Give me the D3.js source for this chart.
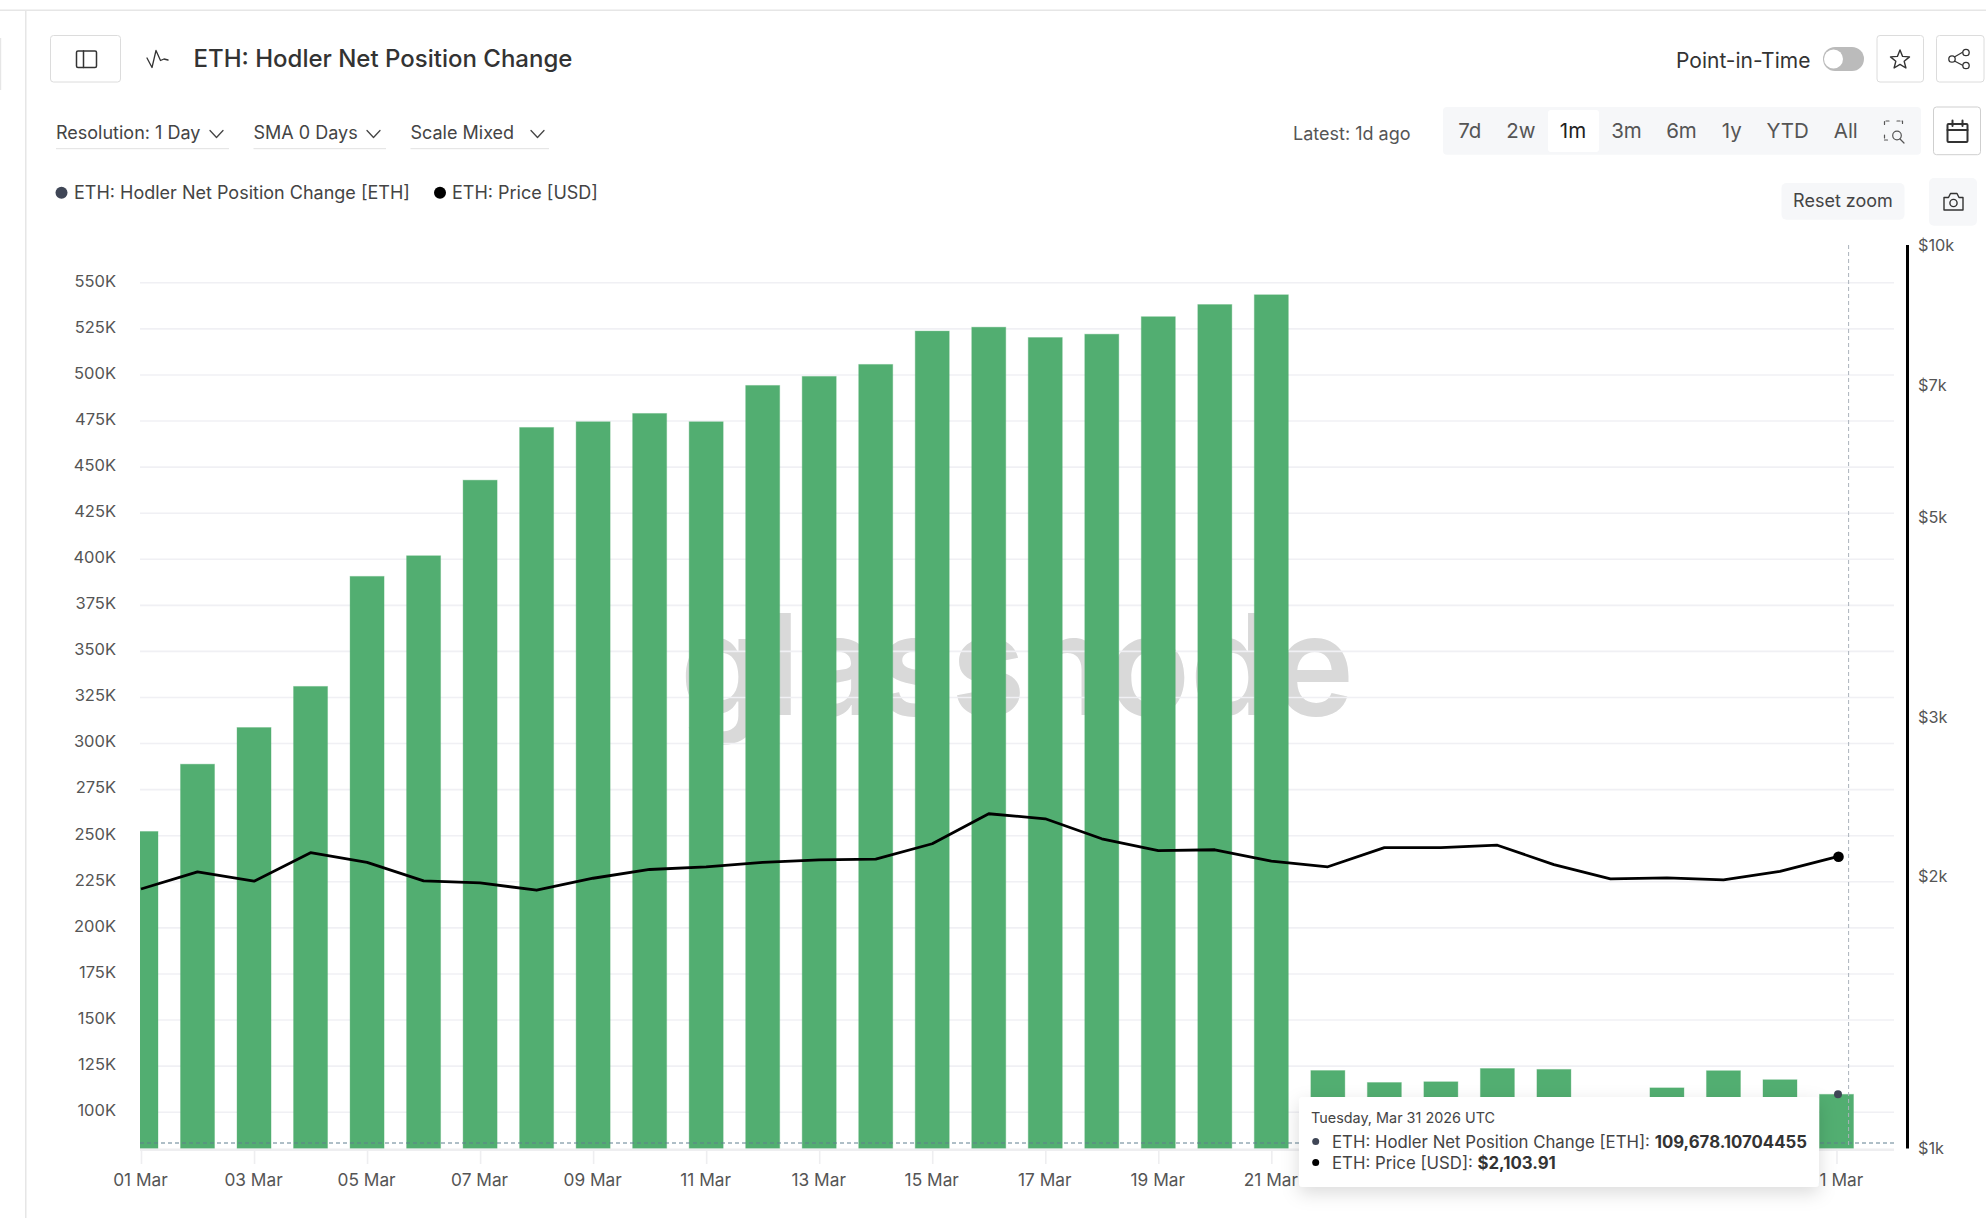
<!DOCTYPE html>
<html>
<head>
<meta charset="utf-8">
<script src="https://cdn.jsdelivr.net/npm/d3@7"></script>
<style>
html,body{margin:0;padding:0;background:#fff;overflow:hidden}
svg{display:block;font-family:Inter,"Noto Sans",sans-serif}
.axis path{display:none}
</style>
</head>
<body>
<svg id="c" width="1986" height="1218"></svg>
<script>
const days = ["2026-03-01","2026-03-02","2026-03-03","2026-03-04","2026-03-05","2026-03-06","2026-03-07","2026-03-08","2026-03-09","2026-03-10","2026-03-11","2026-03-12","2026-03-13","2026-03-14","2026-03-15","2026-03-16","2026-03-17","2026-03-18","2026-03-19","2026-03-20","2026-03-21","2026-03-22","2026-03-23","2026-03-24","2026-03-25","2026-03-26","2026-03-27","2026-03-28","2026-03-29","2026-03-30","2026-03-31"];
const netPosition = [252300,288800,308700,331000,390700,401900,442900,471500,474600,479100,474600,494300,499200,505700,523800,525900,520300,522100,531600,538200,543500,122600,116100,116500,123700,123200,105000,113200,122500,117600,109678.10704455];
const price = [1938,2025,1977,2126,2074,1979,1969,1932,1992,2037,2051,2074,2088,2091,2175,2348,2318,2203,2137,2142,2081,2051,2154,2154,2167,2062,1989,1994,1984,2027,2103.91];
const leftTicks = [100000,125000,150000,175000,200000,225000,250000,275000,300000,325000,350000,375000,400000,425000,450000,475000,500000,525000,550000];
const rightTicks = [1000,2000,3000,5000,7000,10000];
const xTickDays = ["2026-03-01","2026-03-03","2026-03-05","2026-03-07","2026-03-09","2026-03-11","2026-03-13","2026-03-15","2026-03-17","2026-03-19","2026-03-21","2026-03-23","2026-03-25","2026-03-27","2026-03-29","2026-03-31"];
const ranges = ["7d","2w","1m","3m","6m","1y","YTD","All"];

const GREEN="#52ae71", GRID="#f0f0f4", TXT="#555";
const svg=d3.select("#c");
const parse=d3.utcParse("%Y-%m-%d");
const x=d3.scaleUtc().domain([parse(days[0]),parse(days[30])]).range([141,1836.5]);
const yL=d3.scaleLinear().domain([80300,550000]).range([1148.5,282.8]);
const yR=d3.scaleLog().domain([1000,10000]).range([1148.5,245.5]);
const barW=34;

function rect(x0,y0,x1,y1,o={}){return svg.append("rect").attr("x",x0).attr("y",y0).attr("width",x1-x0).attr("height",y1-y0)
 .attr("rx",o.r||0).attr("fill",o.fill||"none").attr("stroke",o.stroke||"none").attr("stroke-width",o.sw||1);}
function text(s,x0,y0,o={}){return svg.append("text").text(s).attr("x",x0).attr("y",y0).attr("dominant-baseline","central")
 .attr("font-size",o.size||16).attr("font-weight",o.w||400).attr("fill",o.fill||TXT).attr("text-anchor",o.a||"start");}
function pathS(d,o={}){return svg.append("path").attr("d",d).attr("fill",o.fill||"none").attr("stroke",o.stroke||"#333").attr("stroke-width",o.sw||1.5).attr("stroke-linecap","round").attr("stroke-linejoin","round").attr("stroke-dasharray",o.dash||null);}

// page frame
rect(0,9.5,1986,11,{fill:"#e6e6e6"});
rect(25,10,26.5,1218,{fill:"#e6e6e6"});
rect(0,38,1.2,90,{fill:"#e6e6e6"});

// header
rect(50.5,35.5,120.5,82,{stroke:"#dcdcdc",r:3,fill:"#fff"});
rect(76.5,51,96.5,67.5,{stroke:"#333",r:1.5,sw:1.5});
pathS("M83.5 51V67.5",{sw:1.5});
pathS("M147 58L152 67.5L156 50.5L160.5 60.5L164 59L168 60",{sw:1.3});
text("ETH: Hodler Net Position Change",193.5,58.5,{size:24,w:500,fill:"#333"});

// dropdowns
const ddData=[["Resolution: 1 Day",56,229,210],["SMA 0 Days",253.5,386,367],["Scale Mixed",410.5,549,531]];
ddData.forEach(d=>{
  text(d[0],d[1],132.5,{size:18,fill:"#444"});
  rect(d[1],148,d[2],149.2,{fill:"#e6e6e6"});
  pathS(`M${d[3]} 130.5L${d[3]+6.5} 137.5L${d[3]+13} 130.5`,{sw:1.3,stroke:"#444"});
});

// legend
svg.append("circle").attr("cx",61.5).attr("cy",192.7).attr("r",6).attr("fill","#3f4656");
text("ETH: Hodler Net Position Change [ETH]",74,192.5,{size:18,fill:"#444"});
svg.append("circle").attr("cx",440).attr("cy",192.7).attr("r",6).attr("fill","#000");
text("ETH: Price [USD]",452,192.5,{size:18,fill:"#444"});

// top right controls
text("Point-in-Time",1676,60,{size:21,fill:"#333"});
rect(1823,47,1864,71,{fill:"#bbb",r:12});
svg.append("circle").attr("cx",1833.5).attr("cy",59).attr("r",9.5).attr("fill","#fff");
rect(1877,35.5,1923.5,82,{stroke:"#dcdcdc",r:3,fill:"#fff"});
pathS("M1900 50L1902.6 56.4L1909.5 56.9L1904.2 61.3L1905.9 68L1900 64.4L1894.1 68L1895.8 61.3L1890.5 56.9L1897.4 56.4Z",{sw:1.4});
rect(1936.5,35.5,1984,82,{stroke:"#dcdcdc",r:3,fill:"#fff"});
pathS("M1953.5 57.5L1963 52M1953.5 60.5L1963 65.5",{sw:1.2});
[[1966,52.5],[1952,59],[1966,65.5]].forEach(p=>svg.append("circle").attr("cx",p[0]).attr("cy",p[1]).attr("r",3.2).attr("fill","#fff").attr("stroke","#333").attr("stroke-width",1.3));

text("Latest: 1d ago",1293,133.5,{size:18,fill:"#555"});
rect(1443,107,1921,154.7,{fill:"#f6f7f9",r:4});
rect(1548,110,1599,152,{fill:"#fff",r:3});
const rangeX=[1469.7,1521,1573,1626.5,1681.5,1731.7,1787.6,1845.8];
ranges.forEach((r,i)=>text(r,rangeX[i],130,{size:20.5,a:"middle",fill:r==="1m"?"#222":"#555"}));
pathS("M1889 121H1884.5V125M1897 121H1902.5V125M1884.5 135V140H1889",{sw:1.2,stroke:"#555",dash:"3 2"});
svg.append("circle").attr("cx",1897).attr("cy",135.5).attr("r",4.3).attr("fill","none").attr("stroke","#555").attr("stroke-width",1.2);
pathS("M1900 139L1904 143",{sw:1.2,stroke:"#555"});
rect(1933.5,107,1980.5,154.7,{stroke:"#cfcfcf",r:3,fill:"#fff"});
rect(1947.5,124,1967.5,142,{stroke:"#333",sw:2,r:1});
pathS("M1947.5 130H1967.5M1952.5 120.5V126M1962.5 120.5V126",{sw:2});

rect(1781.5,183,1904.5,219.7,{fill:"#f6f7f9",r:5});
text("Reset zoom",1843,200.5,{size:18,a:"middle",fill:"#444"});
rect(1929,178,1977,225.7,{fill:"#f6f7f9",r:5});
pathS("M1944 197.5H1948.5L1950.5 193.5H1957L1959 197.5H1963V210H1944Z",{sw:1.4});
svg.append("circle").attr("cx",1953.5).attr("cy",203).attr("r",3.6).attr("fill","none").attr("stroke","#333").attr("stroke-width",1.4);

// watermark
svg.append("text").text("glassnode").attr("x",680).attr("y",715).attr("font-size",140).attr("font-weight",600).attr("fill","#d9d9d9")
  .attr("textLength",674).attr("lengthAdjust","spacingAndGlyphs");

// grid + left axis
const gL=svg.append("g").attr("class","axis").attr("transform","translate(140,0)")
  .call(d3.axisLeft(yL).tickValues(leftTicks).tickFormat(d=>(d/1000)+"K").tickSize(0).tickPadding(24));
gL.selectAll("text").attr("font-size",16.5).attr("fill",TXT).attr("font-family","Inter,sans-serif").attr("dy","0.2em");
svg.append("g").selectAll("line").data(leftTicks).join("line")
  .attr("x1",140).attr("x2",1894).attr("y1",d=>yL(d)).attr("y2",d=>yL(d)).attr("stroke",GRID).attr("stroke-width",1.6);

// bottom axis
const gB=svg.append("g").attr("class","axis").attr("transform","translate(0,1149)")
  .call(d3.axisBottom(x).tickValues(xTickDays.map(parse)).tickFormat(d3.utcFormat("%d Mar")).tickSize(15).tickPadding(10));
gB.selectAll("line").attr("stroke","#eeeef0").attr("stroke-width",1.6);
gB.selectAll("text").attr("font-size",17.3).attr("fill",TXT).attr("font-family","Inter,sans-serif").attr("dx",-1);
rect(140,1148.5,1894,1151,{fill:"#eeeef0"});

// bars
svg.append("clipPath").attr("id","plot").append("rect").attr("x",140).attr("y",240).attr("width",1754).attr("height",908.5);
svg.append("g").attr("clip-path","url(#plot)").selectAll("rect").data(days).join("rect")
  .attr("x",d=>x(parse(d))-barW/2).attr("width",barW)
  .attr("y",(d,i)=>yL(netPosition[i])).attr("height",(d,i)=>1148.5-yL(netPosition[i]))
  .attr("fill",GREEN).attr("stroke","#52ae71").attr("stroke-opacity",0.35).attr("stroke-width",1);

// dashed reference lines
pathS("M140 1143H1894",{sw:1,stroke:"#5f7f8f",dash:"4 3"}).attr("stroke-linecap","butt");
pathS("M1848.6 245V1148",{sw:1,stroke:"#aab2bb",dash:"4 3"}).attr("stroke-linecap","butt");

// price line
const line=d3.line().x((d,i)=>x(parse(days[i]))).y(d=>yR(d));
svg.append("path").attr("d",line(price)).attr("fill","none").attr("stroke","#000").attr("stroke-width",2.8).attr("stroke-linejoin","round");

// right axis
const gR=svg.append("g").attr("class","axis").attr("transform","translate(1907,0)")
  .call(d3.axisRight(yR).tickValues(rightTicks).tickFormat(d=>"$"+(d/1000)+"k").tickSize(0).tickPadding(11));
gR.selectAll("text").attr("font-size",16.3).attr("fill",TXT).attr("font-family","Inter,sans-serif");
rect(1906,245,1909,1148.5,{fill:"#000"});

// end points
const last=parse(days[30]);
svg.append("circle").attr("cx",x(last)+2).attr("cy",yR(price[30])).attr("r",5.3).attr("fill","#000");
svg.append("circle").attr("cx",x(last)+1.5).attr("cy",yL(netPosition[30])).attr("r",4).attr("fill","#3f4656");

// tooltip
const defs=svg.append("defs");
const f=defs.append("filter").attr("id","sh").attr("x","-10%").attr("y","-30%").attr("width","120%").attr("height","170%");
f.append("feDropShadow").attr("dx",0).attr("dy",6).attr("stdDeviation",9).attr("flood-color","#000").attr("flood-opacity",0.14);
rect(1299,1097,1819,1187,{fill:"#fff",r:4}).attr("filter","url(#sh)");
text("Tuesday, Mar 31 2026 UTC",1311,1117.5,{size:14.4,fill:"#444"});
svg.append("circle").attr("cx",1315.7).attr("cy",1141.5).attr("r",3.5).attr("fill","#3f4656");
svg.append("circle").attr("cx",1315.7).attr("cy",1162.5).attr("r",3.5).attr("fill","#000");
const t1=text("ETH: Hodler Net Position Change [ETH]: ",1332,1142,{size:16.8,fill:"#444"});
t1.append("tspan").attr("font-weight",700).attr("fill","#333").text(d3.format(",.8f")(netPosition[30]));
const t2=text("ETH: Price [USD]: ",1332,1163,{size:16.8,fill:"#444"});
t2.append("tspan").attr("font-weight",700).attr("fill","#333").text("$"+d3.format(",.2f")(price[30]));
</script>
</body>
</html>
